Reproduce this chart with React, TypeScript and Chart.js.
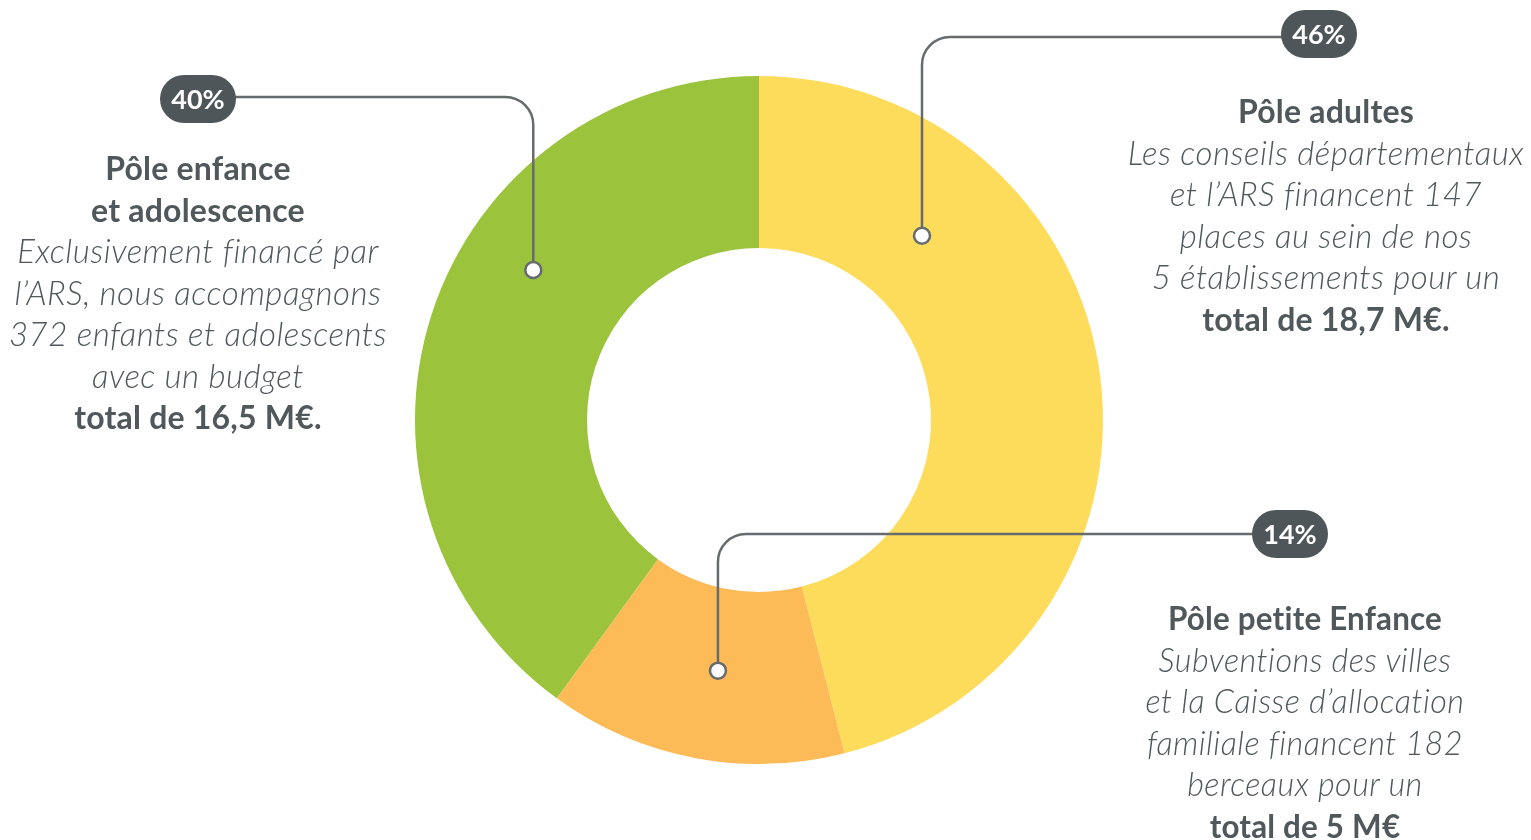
import React, { useEffect, useRef } from "react";
import { Chart, registerables } from "chart.js";

Chart.register(...registerables);

// ---- data ----
const poles = ["Pôle adultes", "Pôle petite Enfance", "Pôle enfance et adolescence"];
const shares = [46, 14, 40];
const shareLabels = ["46%", "14%", "40%"];
const sliceColors = ["#FDDC5B", "#FDBB58", "#9BC33B"];

// callout geometry (angle in degrees from top, clockwise; radius from centre)
const calloutAngles = [41.5, 189.3, 303.6];
const calloutRadii = [246, 254, 271];
const calloutLineY = [37, 534, 97];
const pillCenters = [
  [1319, 34],
  [1290, 534],
  [198, 99],
];

const TEXT = "#50585C";
const LINE = "#666B6E";
const PILL = "#4F5659";

const calloutPlugin = {
  id: "callouts",
  afterDatasetsDraw(chart: any) {
    const ctx = chart.ctx;
    const meta = chart.getDatasetMeta(0);
    ctx.save();
    ctx.strokeStyle = LINE;
    ctx.lineWidth = 2.5;
    meta.data.forEach((arc: any, i: number) => {
      const a = (calloutAngles[i] * Math.PI) / 180;
      const dx = arc.x + calloutRadii[i] * Math.sin(a);
      const dy = arc.y - calloutRadii[i] * Math.cos(a);
      const ly = calloutLineY[i];
      const px = pillCenters[i][0];
      const dir = px > dx ? 1 : -1;
      const cr = 28;
      ctx.beginPath();
      ctx.moveTo(dx, dy);
      ctx.lineTo(dx, ly + cr);
      ctx.arcTo(dx, ly, dx + dir * cr, ly, cr);
      ctx.lineTo(px, ly);
      ctx.stroke();
      ctx.beginPath();
      ctx.arc(dx, dy, 8, 0, Math.PI * 2);
      ctx.fillStyle = "#FFFFFF";
      ctx.fill();
      ctx.stroke();
    });
    ctx.restore();
  },
};

const blockStyle: React.CSSProperties = {
  position: "absolute",
  width: 600,
  textAlign: "center",
  color: TEXT,
  fontFamily: "Lato, 'Open Sans', sans-serif",
  fontSize: 32,
  lineHeight: "41.5px",
  whiteSpace: "nowrap",
};
const boldLine: React.CSSProperties = { fontWeight: 700, fontStyle: "normal", letterSpacing: "0.2px" };
const italicLine: React.CSSProperties = { fontWeight: 300, fontStyle: "italic", fontSize: 33, letterSpacing: "0.5px" };

export default function App() {
  const ref = useRef<HTMLCanvasElement>(null);
  useEffect(() => {
    const chart = new Chart(ref.current!, {
      type: "doughnut",
      data: {
        labels: poles,
        datasets: [
          {
            data: shares,
            backgroundColor: sliceColors,
            borderWidth: 0,
          },
        ],
      },
      options: {
        animation: false,
        responsive: false,
        cutout: "50%",
        layout: { padding: { top: 76, bottom: 76, left: 415, right: 428 } },
        plugins: { legend: { display: false }, tooltip: { enabled: false } },
      },
      plugins: [calloutPlugin],
    });
    return () => chart.destroy();
  }, []);

  const pill = (i: number) => (
    <div
      key={"p" + i}
      style={{
        position: "absolute",
        left: pillCenters[i][0] - 38,
        top: pillCenters[i][1] - 24,
        width: 76,
        height: 48,
        borderRadius: 24,
        background: PILL,
        color: "#fff",
        fontFamily: "Lato, 'Open Sans', sans-serif",
        fontWeight: 700,
        fontSize: 27,
        lineHeight: "48px",
        textAlign: "center",
      }}
    >
      {shareLabels[i]}
    </div>
  );

  return (
    <div style={{ position: "fixed", left: 0, top: 0, width: 1531, height: 840, background: "#fff", overflow: "hidden" }}>
      <canvas ref={ref} width={1531} height={840} style={{ position: "absolute", left: 0, top: 0 }} />
      {[0, 1, 2].map(pill)}
      <div style={{ ...blockStyle, left: 1326 - 300, top: 111 - 20.75 }}>
        <div style={boldLine}>Pôle adultes</div>
        <div style={italicLine}>Les conseils départementaux</div>
        <div style={italicLine}>et l’ARS financent 147</div>
        <div style={italicLine}>places au sein de nos</div>
        <div style={italicLine}>5 établissements pour un</div>
        <div style={boldLine}>total de 18,7 M€.</div>
      </div>
      <div style={{ ...blockStyle, left: 198 - 300, top: 168 - 20.75 }}>
        <div style={boldLine}>Pôle enfance</div>
        <div style={boldLine}>et adolescence</div>
        <div style={italicLine}>Exclusivement financé par</div>
        <div style={italicLine}>l’ARS, nous accompagnons</div>
        <div style={italicLine}>372 enfants et adolescents</div>
        <div style={italicLine}>avec un budget</div>
        <div style={boldLine}>total de 16,5 M€.</div>
      </div>
      <div style={{ ...blockStyle, left: 1305 - 300, top: 618 - 20.75, transform: "scaleX(0.98)" }}>
        <div style={boldLine}>Pôle petite Enfance</div>
        <div style={italicLine}>Subventions des villes</div>
        <div style={italicLine}>et la Caisse d’allocation</div>
        <div style={italicLine}>familiale financent 182</div>
        <div style={italicLine}>berceaux pour un</div>
        <div style={boldLine}>total de 5 M€</div>
      </div>
    </div>
  );
}
